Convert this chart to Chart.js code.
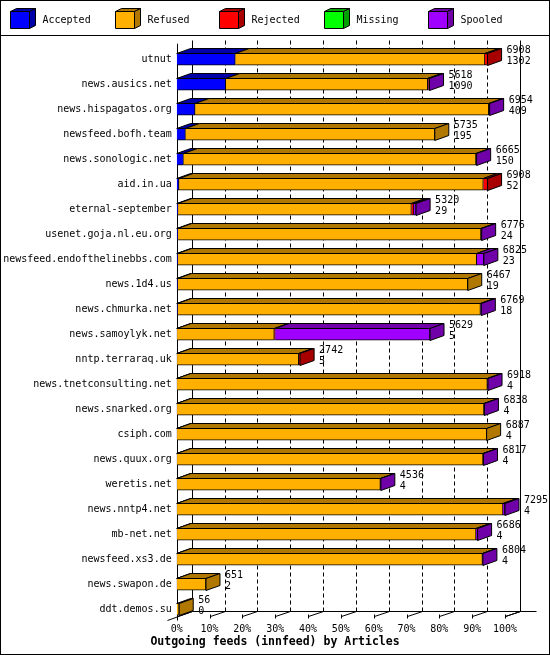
<!DOCTYPE html>
<html>
<head>
<meta charset="utf-8">
<script src="https://cdn.jsdelivr.net/npm/chart.js@4"></script>
<style>
  html, body { margin: 0; padding: 0; background: #fff; }
  canvas { display: block; }
</style>
</head>
<body>
<canvas id="feedChart" width="550" height="655"></canvas>
<script>
// innfeed outgoing feeds, article counts per peer
const hosts = [
  'utnut', 'news.ausics.net', 'news.hispagatos.org', 'newsfeed.bofh.team',
  'news.sonologic.net', 'aid.in.ua', 'eternal-september', 'usenet.goja.nl.eu.org',
  'newsfeed.endofthelinebbs.com', 'news.1d4.us', 'news.chmurka.net', 'news.samoylyk.net',
  'nntp.terraraq.uk', 'news.tnetconsulting.net', 'news.snarked.org', 'csiph.com',
  'news.quux.org', 'weretis.net', 'news.nntp4.net', 'mb-net.net',
  'newsfeed.xs3.de', 'news.swapon.de', 'ddt.demos.su'
];
const totals   = [6908, 5618, 6954, 5735, 6665, 6908, 5320, 6776, 6825, 6467, 6769, 5629, 2742, 6918, 6838, 6887, 6817, 4536, 7295, 6686, 6804, 651, 56];
const accepted = [1302, 1090, 409, 195, 150, 52, 29, 24, 23, 19, 18, 5, 5, 4, 4, 4, 4, 4, 4, 4, 4, 2, 0];
const refused  = [5546, 4488, 6525, 5540, 6500, 6761, 5186, 6737, 6642, 6448, 6731, 2164, 2707, 6899, 6824, 6883, 6803, 4522, 7246, 6647, 6790, 649, 56];
const rejected = [60, 15, 0, 0, 0, 95, 55, 0, 0, 0, 0, 20, 30, 0, 0, 0, 0, 0, 0, 0, 0, 0, 0];
const missing  = [0, 0, 0, 0, 0, 0, 0, 0, 0, 0, 0, 0, 0, 0, 0, 0, 0, 0, 0, 0, 0, 0, 0];
const spooled  = [0, 25, 20, 0, 15, 0, 50, 15, 160, 0, 20, 3440, 0, 15, 10, 0, 10, 10, 45, 35, 10, 0, 0];

const seriesNames = ['Accepted', 'Refused', 'Rejected', 'Missing', 'Spooled'];
const series = [accepted, refused, rejected, missing, spooled];
const frontColors = ['#0000ff', '#ffb000', '#ff0000', '#00ff00', '#a000ff'];
const shadeColors = ['#0000a8', '#b07800', '#a80000', '#00a000', '#7000a8'];

// bars are scaled against the busiest peer (= 100%)
const maxTotal = Math.max(...totals);

const DX = 14, DY = 5;   // bar depth
const AX = 15, AY = 5;   // axis depth

Chart.defaults.font.family = '"DejaVu Sans Mono", monospace';
Chart.defaults.font.size = 10;
Chart.defaults.color = '#000';

function px(v) { return Math.round(v) + 0.5; }

function line(ctx, x1, y1, x2, y2) {
  ctx.beginPath();
  ctx.moveTo(x1, y1);
  ctx.lineTo(x2, y2);
  ctx.stroke();
}

function poly(ctx, pts, fill) {
  ctx.beginPath();
  ctx.moveTo(pts[0][0], pts[0][1]);
  for (let i = 1; i < pts.length; i++) ctx.lineTo(pts[i][0], pts[i][1]);
  ctx.closePath();
  ctx.fillStyle = fill;
  ctx.fill();
  ctx.stroke();
}

const frame3d = {
  id: 'frame3d',
  beforeDatasetsDraw(chart) {
    const { ctx, chartArea: a, scales: { x } } = chart;
    const backTop = px(a.top - 7);
    const floorFront = px(a.bottom - 6);
    const floorBack = floorFront - AY;
    const left = px(x.getPixelForValue(0));
    const right = px(x.getPixelForValue(100));
    ctx.save();
    ctx.strokeStyle = '#000';
    ctx.lineWidth = 1;
    // back wall grid
    x.ticks.forEach(t => {
      const xb = px(x.getPixelForValue(t.value) + AX);
      ctx.setLineDash(t.value === 0 || t.value === 100 ? [] : [4, 3]);
      line(ctx, xb, backTop, xb, floorBack);
    });
    ctx.setLineDash([]);
    // floor
    line(ctx, left + AX, floorBack, right + AX + 16, floorBack);
    line(ctx, left - 10, floorFront + 4, left + AX, floorBack);
    line(ctx, right, floorFront, right + AX, floorBack);
    // front axis and ticks
    line(ctx, left, a.top - 3, left, floorFront + 4);
    x.ticks.forEach(t => {
      const xf = px(x.getPixelForValue(t.value));
      line(ctx, xf, floorFront - 2, xf, floorFront + 2);
      line(ctx, xf, floorFront, xf + AX, floorBack);
    });
    ctx.restore();
  },
  afterDatasetsDraw(chart) {
    const { ctx } = chart;
    ctx.save();
    ctx.strokeStyle = '#000';
    ctx.lineWidth = 1;
    hosts.forEach((host, i) => {
      let last = null;
      series.forEach((vals, k) => {
        if (!vals[i]) return;
        const bar = chart.getDatasetMeta(k).data[i].getProps(['x', 'base', 'y', 'height'], true);
        const top = px(bar.y - bar.height / 2);
        poly(ctx, [[bar.base, top], [bar.base + DX, top - DY], [bar.x + DX, top - DY], [bar.x, top]], shadeColors[k]);
        last = { bar, k, top };
      });
      if (!last) return;
      const { bar, k, top } = last;
      const bottom = top + bar.height;
      poly(ctx, [[bar.x, top], [bar.x + DX, top - DY], [bar.x + DX, bottom - DY], [bar.x, bottom]], shadeColors[k]);
      ctx.fillStyle = '#000';
      ctx.font = '10px "DejaVu Sans Mono", monospace';
      ctx.textAlign = 'left';
      ctx.textBaseline = 'middle';
      ctx.fillText(String(totals[i]), bar.x + DX + 5, bar.y - 9);
      ctx.fillText(String(accepted[i]), bar.x + DX + 5, bar.y + 2);
    });
    ctx.restore();
  },
  afterDraw(chart) {
    const { ctx, width, height } = chart;
    ctx.save();
    ctx.strokeStyle = '#000';
    ctx.lineWidth = 1;
    ctx.strokeRect(0.5, 0.5, width - 1, height - 1);
    line(ctx, 0, 35.5, width, 35.5);
    // legend with little cubes
    ctx.font = '10px "DejaVu Sans Mono", monospace';
    ctx.textBaseline = 'middle';
    ctx.textAlign = 'left';
    chart.data.datasets.forEach((ds, k) => {
      const x0 = Math.round(10 + k * 104.5) + 0.5;
      const y0 = 11.5;
      poly(ctx, [[x0, y0], [x0 + 6, y0 - 3], [x0 + 25, y0 - 3], [x0 + 19, y0]], shadeColors[k]);
      poly(ctx, [[x0 + 19, y0], [x0 + 25, y0 - 3], [x0 + 25, y0 + 14], [x0 + 19, y0 + 17]], shadeColors[k]);
      poly(ctx, [[x0, y0], [x0 + 19, y0], [x0 + 19, y0 + 17], [x0, y0 + 17]], ds.backgroundColor);
      ctx.fillStyle = '#000';
      ctx.fillText(ds.label, x0 + 32, 20);
    });
    ctx.restore();
  }
};

const ctx = document.getElementById('feedChart').getContext('2d');

new Chart(ctx, {
  type: 'bar',
  data: {
    labels: hosts,
    datasets: seriesNames.map((name, k) => ({
      label: name,
      data: series[k].map(v => v / maxTotal * 100),
      backgroundColor: frontColors[k],
      borderColor: '#000',
      borderWidth: 1,
      barThickness: 12
    }))
  },
  options: {
    indexAxis: 'y',
    responsive: false,
    animation: false,
    devicePixelRatio: 1,
    layout: { padding: { left: 0, right: 0, top: 46.7, bottom: 0 } },
    plugins: {
      legend: { display: false },
      tooltip: { enabled: false },
      title: {
        display: true,
        position: 'bottom',
        text: 'Outgoing feeds (innfeed) by Articles',
        color: '#000',
        font: { weight: 'bold', size: 11.5, lineHeight: 1.2 },
        padding: { top: 0, bottom: 6.4 }
      }
    },
    scales: {
      x: {
        stacked: true,
        min: 0,
        max: 100,
        grid: { display: false, drawTicks: false },
        border: { display: false },
        ticks: { stepSize: 10, autoSkip: false, maxRotation: 0, padding: 2, callback: v => v + '%' },
        afterFit(scale) { scale.height = 13.1; }
      },
      y: {
        stacked: true,
        grid: { display: false, drawTicks: false },
        border: { display: false },
        ticks: { padding: 5, autoSkip: false },
        afterFit(scale) { scale.width = 176.7; }
      },
      // empty strip on the right for the value labels
      yRight: {
        type: 'category',
        position: 'right',
        grid: { display: false, drawTicks: false },
        border: { display: false },
        ticks: { display: false },
        afterFit(scale) { scale.width = 45; }
      }
    }
  },
  plugins: [frame3d]
});
</script>
</body>
</html>
